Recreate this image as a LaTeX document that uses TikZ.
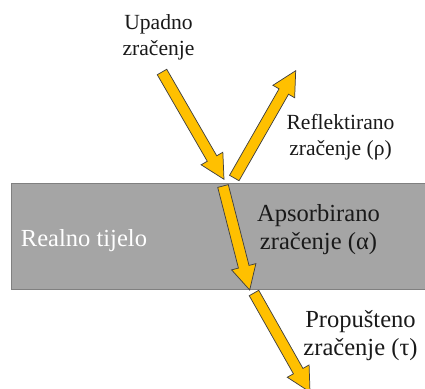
\documentclass[tikz,border=0pt]{standalone}
\usepackage{fontspec}
\setmainfont{Liberation Serif}
\usetikzlibrary{calc}
\definecolor{beamfill}{HTML}{FFC000}
\definecolor{bodyfill}{HTML}{A5A5A5}
\definecolor{bodyline}{HTML}{808080}

% block arrow from tail coordinate #1 to tip coordinate #2
\newcommand{\beamarrow}[2]{%
  \coordinate (#1-base) at ($(#2)!18pt!(#1)$);
  \draw [beam] ($(#1)!4.1pt!90:(#2)$)
    -- ($(#1-base)!4.1pt!90:(#2)$) -- ($(#1-base)!9.4pt!90:(#2)$)
    -- (#2)
    -- ($(#1-base)!9.4pt!-90:(#2)$) -- ($(#1-base)!4.1pt!-90:(#2)$)
    -- ($(#1)!4.1pt!-90:(#2)$) -- cycle;
}

\begin{document}
\begin{tikzpicture}[
    x=0.75pt, y=-0.75pt,
    beam/.style={
		fill=beamfill,
		draw=black!75,
		line width=0.55pt,
		line join=miter
	},
	body/.style={
		fill=bodyfill,
		draw=bodyline,
		line width=0.6pt
	},
	label/.style={
		align=center,
		inner sep=0pt,
		anchor=base,
		text=black!90,
		font=\fontsize{16.2}{19.5}\selectfont
	},
	biglabel/.style={
		label,
		font=\fontsize{18.4}{21}\selectfont
	}
  ]
  \useasboundingbox (0,0) rectangle (425,389);

    % We start by placing the body
  \draw [body] (11,183.5) rectangle (427,289.5);
  \node [biglabel, anchor=base west, text=white] (tijelo) at (20.7,246) {Realno tijelo};

    % the end points of the rays
  \coordinate (upad) at (162,72);
  \coordinate (hit) at (224,179.3);
  \coordinate (refl) at (234.3,178);
  \coordinate (refltip) at (295.7,70.7);
  \coordinate (aps) at (223,186);
  \coordinate (apstip) at (249.7,290);
  \coordinate (prop) at (254,293);
  \coordinate (proptip) at (310,392);

  \beamarrow{upad}{hit}
  \beamarrow{refl}{refltip}
  \beamarrow{aps}{apstip}
  \beamarrow{prop}{proptip}

    % labels (base is the last line)
  \node [label] (upadno) at (158.5,55) {Upadno\\zračenje};
  \node [label] (reflektirano) at (340.5,155.3) {Reflektirano\\zračenje (ρ)};
  \node [biglabel] (apsorbirano) at (318.5,249) {Apsorbirano\\zračenje (α)};
  \node [biglabel] (propusteno) at (360.5,355) {Propušteno\\zračenje (τ)};

\end{tikzpicture}
\end{document}
